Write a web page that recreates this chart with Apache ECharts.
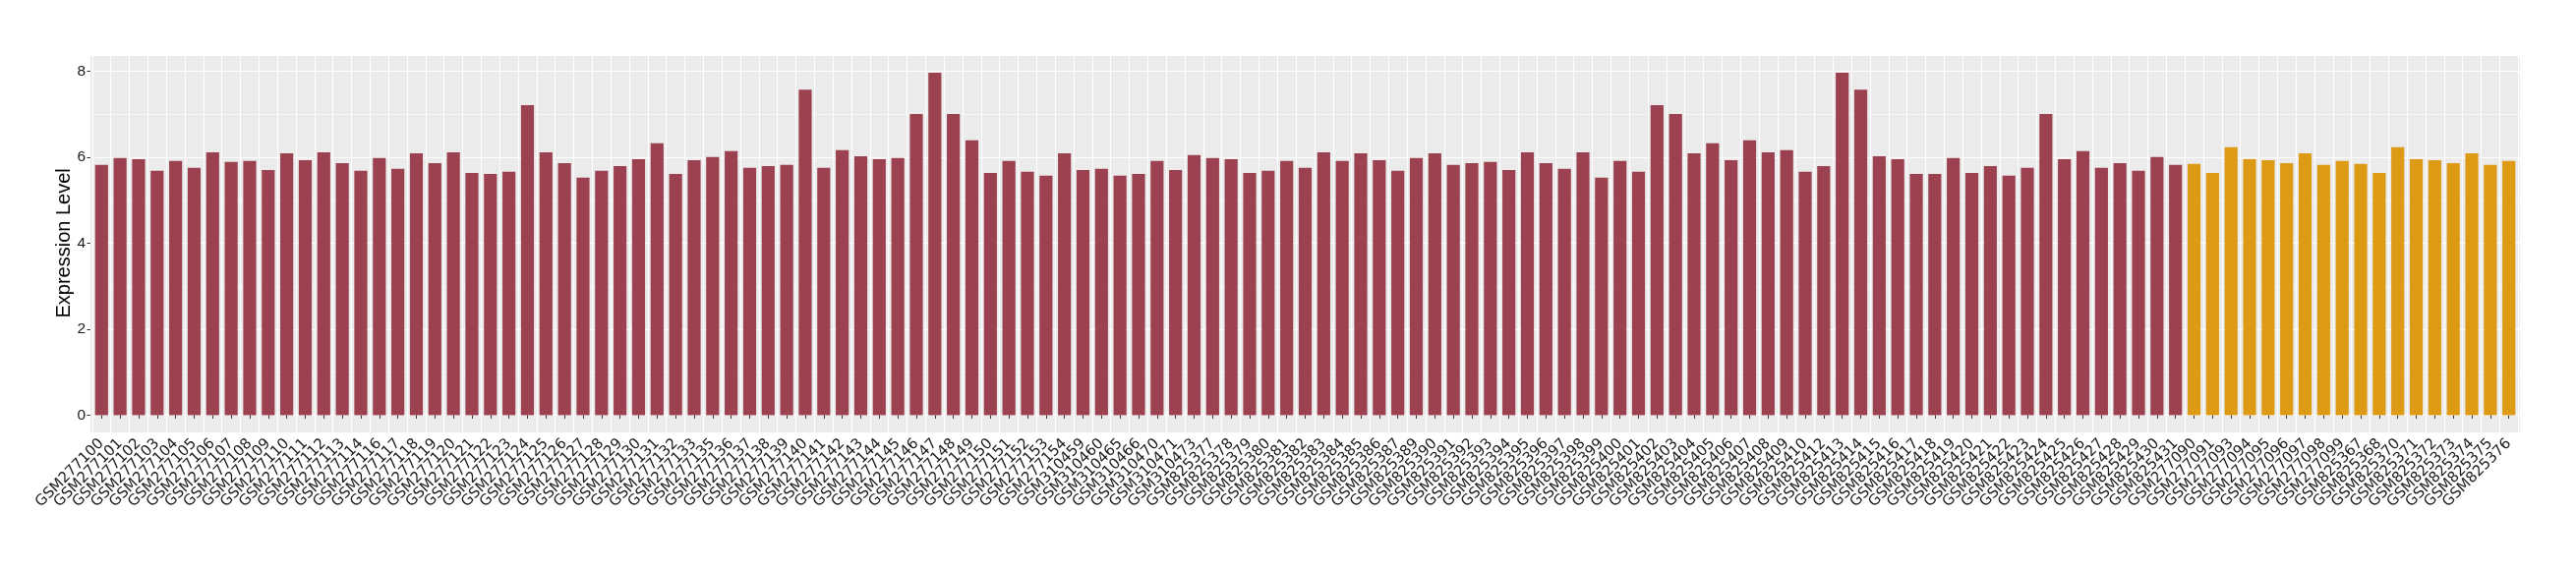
<!DOCTYPE html>
<html>
<head>
<meta charset="utf-8">
<title>Expression Level</title>
<script src="https://cdn.jsdelivr.net/npm/echarts@6/dist/echarts.min.js"></script>
<style>
    html, body {
        margin: 0;
        padding: 0;
        background: #ffffff;
    }
    #chart {
        width: 2620px;
        height: 580px;
    }
</style>
</head>
<body>
<div id="chart"></div>
<script>
// samples of the first (dark red) group
const samplesGroup1 = [
    'GSM277100', 'GSM277101', 'GSM277102', 'GSM277103', 'GSM277104', 'GSM277105', 'GSM277106', 'GSM277107',
    'GSM277108', 'GSM277109', 'GSM277110', 'GSM277111', 'GSM277112', 'GSM277113', 'GSM277114', 'GSM277116',
    'GSM277117', 'GSM277118', 'GSM277119', 'GSM277120', 'GSM277121', 'GSM277122', 'GSM277123', 'GSM277124',
    'GSM277125', 'GSM277126', 'GSM277127', 'GSM277128', 'GSM277129', 'GSM277130', 'GSM277131', 'GSM277132',
    'GSM277133', 'GSM277135', 'GSM277136', 'GSM277137', 'GSM277138', 'GSM277139', 'GSM277140', 'GSM277141',
    'GSM277142', 'GSM277143', 'GSM277144', 'GSM277145', 'GSM277146', 'GSM277147', 'GSM277148', 'GSM277149',
    'GSM277150', 'GSM277151', 'GSM277152', 'GSM277153', 'GSM277154',
    'GSM310459', 'GSM310460', 'GSM310465', 'GSM310466', 'GSM310470', 'GSM310471', 'GSM310473',
    'GSM825377', 'GSM825378', 'GSM825379', 'GSM825380', 'GSM825381', 'GSM825382', 'GSM825383', 'GSM825384',
    'GSM825385', 'GSM825386', 'GSM825387', 'GSM825389', 'GSM825390', 'GSM825391', 'GSM825392', 'GSM825393',
    'GSM825394', 'GSM825395', 'GSM825396', 'GSM825397', 'GSM825398', 'GSM825399', 'GSM825400', 'GSM825401',
    'GSM825402', 'GSM825403', 'GSM825404', 'GSM825405', 'GSM825406', 'GSM825407', 'GSM825408', 'GSM825409',
    'GSM825410', 'GSM825412', 'GSM825413', 'GSM825414', 'GSM825415', 'GSM825416', 'GSM825417', 'GSM825418',
    'GSM825419', 'GSM825420', 'GSM825421', 'GSM825422', 'GSM825423', 'GSM825424', 'GSM825425', 'GSM825426',
    'GSM825427', 'GSM825428', 'GSM825429', 'GSM825430', 'GSM825431'
];

// samples of the second (orange) group
const samplesGroup2 = [
    'GSM277090', 'GSM277091', 'GSM277093', 'GSM277094', 'GSM277095', 'GSM277096', 'GSM277097', 'GSM277098',
    'GSM277099', 'GSM825367', 'GSM825368', 'GSM825370', 'GSM825371', 'GSM825372', 'GSM825373', 'GSM825374',
    'GSM825375', 'GSM825376'
];

const valuesGroup1 = [
    5.82, 5.98, 5.95, 5.68, 5.91, 5.75, 6.11, 5.89, 5.91, 5.70, 6.09, 5.93, 6.11, 5.86, 5.68, 5.98,
    5.73, 6.09, 5.86, 6.11, 5.63, 5.61, 5.66, 7.21, 6.11, 5.86, 5.52,
    5.68, 5.79, 5.95, 6.32, 5.61, 5.93, 6.00, 6.14, 5.75, 5.79, 5.82, 7.57, 5.75, 6.16, 6.02, 5.95,
    5.98, 7.00, 7.96, 7.00, 6.39, 5.63, 5.91, 5.66, 5.57, 6.09,
    5.70, 5.73, 5.57, 5.61, 5.91, 5.70, 6.05, 5.98, 5.95, 5.63, 5.68, 5.91, 5.75, 6.11, 5.91, 6.09,
    5.93, 5.68, 5.98, 6.09, 5.82, 5.86, 5.89, 5.70, 6.11, 5.86,
    5.73, 6.11, 5.52, 5.91, 5.66, 7.21, 7.00, 6.09, 6.32, 5.93, 6.39, 6.11, 6.16, 5.66, 5.79, 7.96,
    7.57, 6.02, 5.95, 5.61, 5.61, 5.98, 5.63, 5.79, 5.57, 5.75,
    7.00, 5.95, 6.14, 5.75, 5.86, 5.68, 6.00, 5.82
];

const valuesGroup2 = [
    5.84, 5.63, 6.23, 5.95, 5.93, 5.86, 6.09, 5.82, 5.91,
    5.84, 5.63, 6.23, 5.95, 5.93, 5.86, 6.09, 5.82, 5.91
];

const yTicks = [0, 2, 4, 6, 8];

const colorGroup1 = '#9B4150';
const colorGroup2 = '#DD9A15';

const categories = samplesGroup1.concat(samplesGroup2);
const barData = valuesGroup1.map(v => ({value: v, itemStyle: {color: colorGroup1}}))
    .concat(valuesGroup2.map(v => ({value: v, itemStyle: {color: colorGroup2}})));

// panel geometry (ggplot style: 0.6 category padding on each side)
const panelLeft = 92, panelTop = 57, panelWidth = 2471, panelHeight = 383;
const band = panelWidth / (categories.length + 0.2);
const yLow = -0.4, yHigh = 8.35;
const pxPerUnit = panelHeight / (yHigh - yLow);

const chart = echarts.init(document.getElementById('chart'));

chart.setOption({
    animation: false,
    textStyle: {fontFamily: 'Liberation Sans'},
    grid: [
        // 0: grey panel
        {left: panelLeft, top: panelTop, width: panelWidth, height: panelHeight,
            show: true, backgroundColor: '#EBEBEB', borderWidth: 0},
        // 1: bars + x axis
        {left: panelLeft + 0.1 * band, top: panelTop, width: band * categories.length, height: panelHeight},
        // 2: y axis from 0 to 8
        {left: panelLeft, width: panelWidth,
            top: panelTop + (yHigh - 8) * pxPerUnit, height: 8 * pxPerUnit}
    ],
    xAxis: [
        {gridIndex: 0, type: 'value', show: false, min: 0, max: 1},
        {
            gridIndex: 1,
            type: 'category',
            data: categories,
            axisLine: {show: false},
            axisTick: {show: true, length: 3.5, alignWithLabel: true, lineStyle: {color: '#333333', width: 1}},
            axisLabel: {
                interval: 0,
                rotate: 45,
                margin: 9,
                fontSize: 15,
                color: '#1A1A1A',
                fontFamily: 'DejaVu Sans'
            },
            splitLine: {show: true, interval: 0, lineStyle: {color: '#FFFFFF', width: 1.1}}
        },
        {gridIndex: 2, type: 'value', show: false, min: 0, max: 1}
    ],
    yAxis: [
        {gridIndex: 0, type: 'value', show: false, min: 0, max: 1},
        {gridIndex: 1, type: 'value', show: false, min: yLow, max: yHigh},
        {
            gridIndex: 2,
            type: 'value',
            min: yTicks[0],
            max: yTicks[yTicks.length - 1],
            interval: 2,
            name: 'Expression Level',
            nameLocation: 'middle',
            nameRotate: 90,
            nameGap: 17,
            nameMoveOverlap: false,
            nameTextStyle: {fontSize: 20, color: '#000000', fontFamily: 'Liberation Sans'},
            axisLine: {show: false},
            axisTick: {show: true, length: 3.5, lineStyle: {color: '#333333', width: 1}},
            axisLabel: {margin: 5, fontSize: 15.5, color: '#1A1A1A', fontFamily: 'Liberation Sans'},
            splitLine: {show: true, lineStyle: {color: '#FFFFFF', width: 1.1}},
            minorTick: {show: false, splitNumber: 2},
            minorSplitLine: {show: true, lineStyle: {color: '#FFFFFF', width: 0.55}}
        }
    ],
    series: [
        {
            type: 'bar',
            xAxisIndex: 1,
            yAxisIndex: 1,
            data: barData,
            barWidth: '70%',
            z: 3
        }
    ]
});
</script>
</body>
</html>
